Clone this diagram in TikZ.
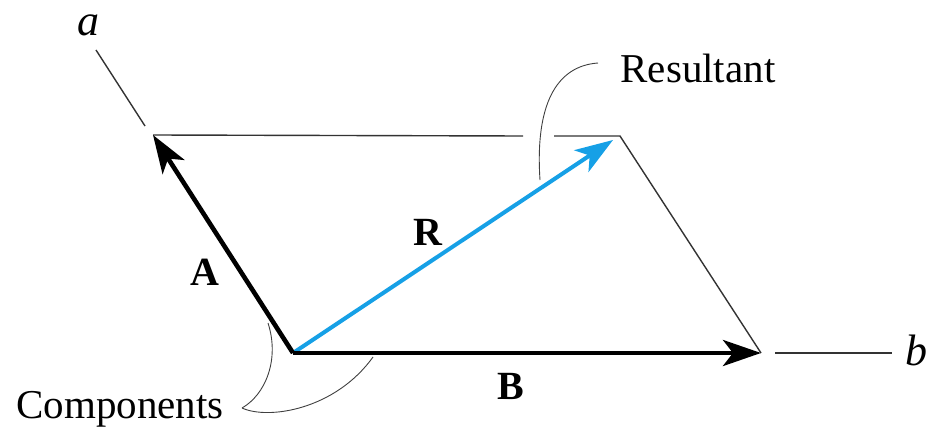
\documentclass[tikz,border=0pt]{standalone}
\usepackage{fontspec}
\setmainfont{Liberation Serif}
\usetikzlibrary{arrows.meta}
\definecolor{resblue}{RGB}{22,160,230}
\tikzset{
  vec/.style={line width=2.3pt,-{Stealth[length=19pt,width=13pt,inset=5pt]}},
  thinline/.style={line width=0.7pt,black!80},
  brace/.style={line width=0.45pt,black!75},
  lbl/.style={font=\fontsize{20.5}{24}\selectfont,inner sep=0pt},
  blbl/.style={font=\fontsize{20}{24}\selectfont\bfseries,inner sep=0pt},
  ilbl/.style={font=\fontsize{22}{26}\selectfont\itshape,inner sep=0pt}
}
\begin{document}
\begin{tikzpicture}[x=0.5pt,y=-0.5pt]
\useasboundingbox (0,0) rectangle (948,433);
% points
\coordinate (O) at (293,353);
\coordinate (Atip) at (153,135);
\coordinate (Btip) at (761,353);
\coordinate (Ctop) at (620,136);
\coordinate (Rtip) at (613,140);
\coordinate (gapL) at (523,136);
\coordinate (gapR) at (554,136);
\coordinate (a1) at (96,50);
\coordinate (a2) at (145,126);
\coordinate (b1) at (775,353);
\coordinate (b2) at (892,353);
\coordinate (resA) at (598,63);
\coordinate (resB) at (540,180);
\coordinate (cmpTip) at (242,408);
\coordinate (cmpA) at (268,323);
\coordinate (cmpB) at (373,357);
% parallelogram sides
\draw[thinline] (Atip) -- (gapL);
\draw[thinline] (gapR) -- (Ctop) -- (Btip);
% axes
\draw[thinline] (a1) -- (a2);
\draw[thinline] (b1) -- (b2);
% vectors
\draw[vec,line width=2pt,resblue] (O) -- (Rtip);
\draw[vec] (O) -- (Atip);
\draw[vec] (O) -- (Btip);
% labels
\node[ilbl] (la) at (88,25) {a};
\node[ilbl] (lb) at (916,350) {b};
\node[blbl] (lA) at (205,272) {A};
\node[blbl] (lB) at (511,386) {B};
\node[blbl] (lR) at (428,232) {R};
\node[lbl] (lres) at (698,68) {Resultant};
\node[lbl] (lcmp) at (120,409) {Components};
% callouts
\draw[brace] (resA) .. controls (556,66) and (535,105) .. (resB);
\draw[brace] (cmpTip) .. controls (265,395) and (280,360) .. (cmpA);
\draw[brace] (cmpTip) .. controls (268,420) and (335,410) .. (cmpB);
\end{tikzpicture}
\end{document}
